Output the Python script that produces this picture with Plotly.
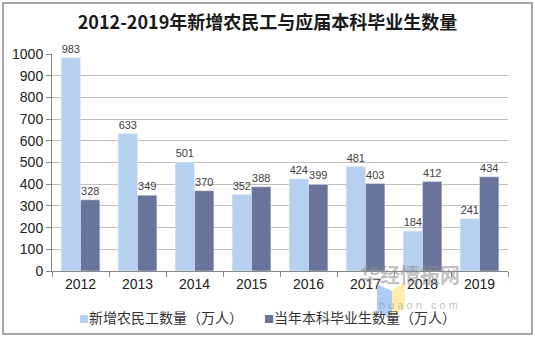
import plotly.graph_objects as go

years = ["2012", "2013", "2014", "2015", "2016", "2017", "2018", "2019"]
migrant = [983, 633, 501, 352, 424, 481, 184, 241]
graduates = [328, 349, 370, 388, 399, 403, 412, 434]
name_migrant = "新增农民工数量（万人）"
name_grad = "当年本科毕业生数量（万人）"
c_migrant = "#B6D1F0"
c_grad = "#68749B"

W, H = 535, 337
L, R, T, B = 52, 27, 54, 66
pw, ph = W - L - R, H - T - B

def px(x):
    return (x - L) / pw

def py(y):
    return (H - B - y) / ph

fig = go.Figure()
fig.add_trace(go.Bar(x=years, y=migrant, name=name_migrant, marker_color=c_migrant,
                     text=migrant, textposition="outside", cliponaxis=False,
                     textfont=dict(size=11, color="#404040", family="Liberation Sans")))
fig.add_trace(go.Bar(x=years, y=graduates, name=name_grad, marker_color=c_grad,
                     text=graduates, textposition="outside", cliponaxis=False,
                     textfont=dict(size=11, color="#404040", family="Liberation Sans")))

fig.update_layout(
    width=W, height=H, margin=dict(l=L, r=R, t=T, b=B, autoexpand=False),
    paper_bgcolor="white", plot_bgcolor="white",
    barmode="group", bargap=0.32, bargroupgap=0,
    title=dict(text="<b>2012-2019年新增农民工与应届本科毕业生数量</b>", x=0.5, xanchor="center",
               y=1 - 23 / H, yanchor="middle",
               font=dict(family="Noto Sans CJK SC", size=18, color="#1a1a1a")),
    showlegend=False,
    font=dict(family="Liberation Sans"),
)
fig.update_xaxes(showline=True, linecolor="#888888", ticks="outside", ticklen=5, tickcolor="#888888",
                 tickson="boundaries", tickfont=dict(size=14, color="#222222", family="Liberation Sans"),
                 showgrid=False)
fig.update_yaxes(range=[0, 1000], dtick=100, showline=True, linecolor="#888888", ticks="outside",
                 ticklen=5, tickcolor="#888888", showgrid=True, gridcolor="#BFBFBF", gridwidth=1,
                 tickfont=dict(size=14, color="#222222", family="Liberation Sans"), zeroline=False)

# legend (drawn as text so the small square markers match)
for xpos, col, name in [(77, c_migrant, name_migrant), (262, c_grad, name_grad)]:
    fig.add_annotation(x=px(xpos), y=py(317), xref="paper", yref="paper", xanchor="left", yanchor="middle",
                       text=f"<span style='color:{col};font-size:10px'>■</span>{name}", showarrow=False,
                       font=dict(family="Noto Sans CJK SC", size=14, color="#333333"))

# outer border
fig.add_shape(type="rect", xref="paper", yref="paper", x0=px(3), x1=px(532), y0=py(334), y1=py(3),
              line=dict(color="#8c8c8c", width=1.5), fillcolor="rgba(0,0,0,0)", layer="above")

# watermark
fig.add_shape(type="path", xref="paper", yref="paper",
              path=f"M {px(377)},{py(284)} L {px(392)},{py(291)} L {px(392)},{py(318)} L {px(377)},{py(311)} Z",
              fillcolor="rgba(120,170,240,0.6)", line=dict(width=0), layer="above")
fig.add_shape(type="path", xref="paper", yref="paper",
              path=f"M {px(392)},{py(291)} L {px(405)},{py(281)} L {px(405)},{py(308)} L {px(392)},{py(318)} Z",
              fillcolor="rgba(255,230,140,0.7)", line=dict(width=0), layer="above")
fig.add_annotation(x=px(462), y=py(291), xref="paper", yref="paper", text="<b>华经情报网</b>",
                   showarrow=False, font=dict(family="Noto Sans CJK SC", size=20, color="rgba(140,140,140,0.55)"))
fig.add_annotation(x=px(460), y=py(313), xref="paper", yref="paper", text="h u a o n . c o m",
                   showarrow=False, font=dict(family="Liberation Sans", size=11, color="rgba(140,140,140,0.55)"))

fig.write_html("out.html")
